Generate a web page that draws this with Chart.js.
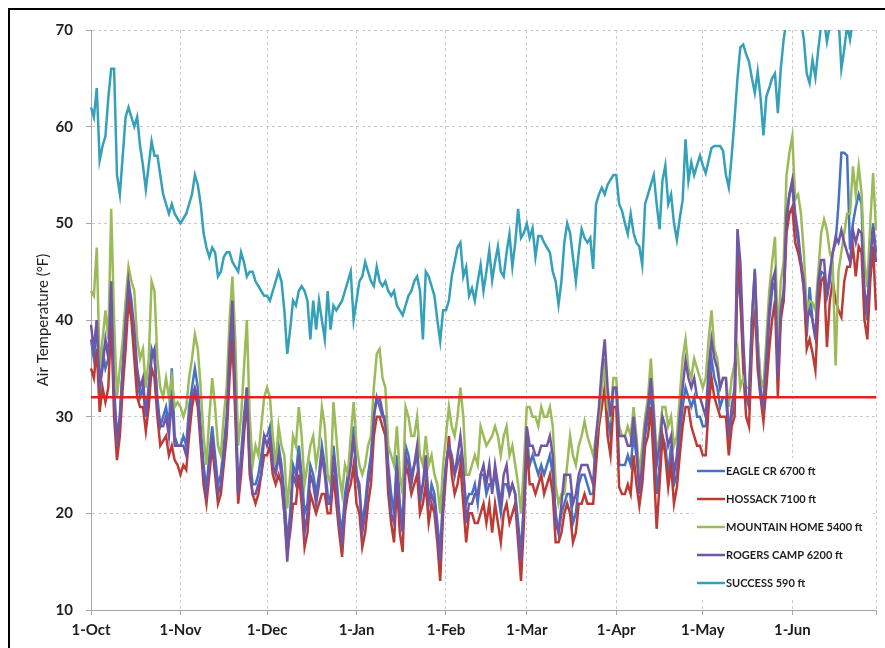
<!DOCTYPE html>
<html>
<head>
<meta charset="utf-8">
<title>Air Temperature</title>
<script src="https://cdn.jsdelivr.net/npm/chart.js@4.4.1/dist/chart.umd.min.js"></script>
<style>
  html, body { margin: 0; padding: 0; background: #fff; overflow: hidden; }
  #wrap { position: relative; width: 885px; height: 648px; }
  #frame { position: absolute; left: 8px; top: 8px; width: 900px; height: 700px; border: 2px solid #000; pointer-events: none; }
</style>
</head>
<body>
<div id="wrap">
  <canvas id="temp_chart"></canvas>
  <div id="frame"></div>
</div>
<script>
//daily labels 1-Oct .. 30-Jun, only the 1st of each month gets a tick label
const month_names = ['Jan','Feb','Mar','Apr','May','Jun','Jul','Aug','Sep','Oct','Nov','Dec'];
const days = [];
for (let d = new Date(2010, 9, 1); d <= new Date(2011, 5, 30); d.setDate(d.getDate() + 1)) {
  days.push(d.getDate() + '-' + month_names[d.getMonth()]);
}
const month_ticks = ['1-Oct','1-Nov','1-Dec','1-Jan','1-Feb','1-Mar','1-Apr','1-May','1-Jun'];
const y_ticks = [10, 20, 30, 40, 50, 60, 70];
const freezing_f = 32;

// daily air temperature (F), one row per month Oct..Jun
const eagle_cr = [
  38,36,40,32,37,35,36,42,33,28,30,35,39,43,41,38,34,32,33,30,33,37,36,32,29,30,31,29,35,28,27,
  27,28,27,31,33,35,33,29,25,22.5,26,29,26,23,24,27,30,36,40,33,22,26,30,33,26,23,23,24,26,28,
  28,29,26,25,27,25,22,17,20,25,24,27,24,20,21,25,24,22,24,27,25,22,21,27,24,20,18,22,24,26,29,
  24,22,19,21,24,26,30,32,31,30,30,25,22,20,26,21,19,27,26,24,25,26,21,23,25,21,23,22,19,16,22,
  25,27,25,24,25,26,24,21,22,22,23,21,24,24,22,23,23,24,22,20,23,23,22,23,22,19,16,21,
  28,25,26,25,24,25,24,25,26,24,20,18,20,21,22,22,19,20,23,24,24,23,22,22,27,30,34,36,30,28,33,
  33,25,25,25,26,25,28,26,23,25,28,30,33,28,22,25,28,27,24,27,23,24,28,31,33,32,31,32,30,30,
  29,29,33,36,34,33,31,32,32,28,30,31,45,42,36,32,31,40,45.3,38,33,31,35,40,43,44,35,41,42,50,53,
  54,50,48,46,43,38.3,43.4,40,38.3,43,45,44.8,42.4,44,47,48,52,57.3,57.3,57,47.3,50,51.7,53,52,42,40,47,50,47
];
const hossack = [
  35,34,37,30.5,33,31.5,33,40,30,25.5,28,33,37,42,40,36,32,31,31,28.5,31,35,34,30,27,27.5,28,26,27,25.5,25,
  24,25,24.5,28,31,32.5,31,27,23,21,24,27,24,21,22,25,28,34,38,30,21,24,28,32,24,22,21,22,24,26,
  26,27,24,23,24,23,20,16,18,21,21,24,21,16.5,18,22,21,20,21,22,22,20,20,24,21,18,15.5,20,22,23,25,
  21,20,16.5,18,21,23,28,30,30,29,28,22,19,17,23,18,16,25,24,22,23,24,20,21,23,19,21,20,17,13,20,
  24,28,24,22,23,25,21,17,20,20,19,19,20,21,19,21,18,21,19,17,20,21,19,20,21,17,13,19,
  27,23,23,22,23,24,22,23,24,22,17,17,18,20,21,20,17,18,21,21,22,21,21,21,25,29,31,33,28,26,31,
  31,22.7,22,22,23,22,26,23,20.8,23,27,28,31,25,18.4,23,28,26,22.7,25,21,22.7,26,29,31,31,29,28,27,27,
  26,26,31,34,32,31,30,30,30,26,29,30,47,43,35,30,29,37,42,35,32,29.5,33,37,40,42,32,40,42,49,51,
  51.7,48,47,45.5,43.4,37,38,36.6,34.8,41,44,44.5,37.2,42,44,42,41,40.3,44,45.5,45.5,47.6,44.5,47.6,47,40,38,44,47.6,41
];
const mountain_home = [
  43,42.5,47.5,35,38,41,38,51.5,40,32,35,38,42,45.5,44,43,38,36,37,33,36,44,43,36,33,32,34,32,34,31,31.5,
  31,30,31,34,36,38.5,37,33,28,25,30,34,31,27,26,30,33,40,44.5,38,27,30,35,40,30,25,27,26,29,32,
  33,32,28,25,29,27,26,20.5,24,28,27,31,28,23,25,27,28,25,27,31,29,24,23,31.5,28,24,22,25,24,28,31.5,
  27,25,24,25,27,28,33,36.5,37,34,33,27,26,25,29,24,22,31,30,28,28,30,26,25,28,25,26,24,23,20,25,
  28,31,29,28,30,33,30,24,24,25,26,25,29,28,27,27.5,28,29,28,26,28,29,26,27,25,23,20,25,
  31,31,30,30,29,31,30,30,31,29,23,21,22,22,25,28,26,25,27,28,29.5,28,27,26,28,30,33,35,31,30,34,
  34,29,28,28,29,28,31,28,24,27,30,32,36,31,26,28,31,31,29,30,27,28,32,36,38,35,34,36,35,34,
  33,34,38,41,37,36,33,34,34,31,34,35.5,37,33,34,33,33,40,43,38,34,33,38,43,46,48.6,38,44,46,55,57.3,
  59,52.5,53,51,46.9,41,42,41.8,41,45,49,50.4,49.3,47,46,35.3,45,47,49,51,51,55.9,53,55.9,53.1,46,43.4,50,55.2,49.3
];
const rogers_camp = [
  39.5,37,40,33,35,38,36,44,32,27,30,35,40,44,42,39,35,33,34,30,33,36,37,31,29,29,30,28,32,27,27,
  27,27,26,30,32,33,32,28,24,22,25,28,25,22,23,26,29,37,42,32,22,25,29,33,25,22,22,23,24,28,
  27,28,25,24,26,24,20,15,19,24,23,26,23,18,20,24,23,21,23,26,24,21,21,26,23,19,17,21,23,25,28,
  24,23,18,20,23,25,30,32,32,30.5,29,24,20,19,25,20,18,26,25,23,25,27,22,23,26,21,22,21,18,15,21,
  25,27,26,24,26,28,25,19,21,21,22,22,24,25,23,25,22,25,23,21,24,25,22,23,22,18,15,21,
  29,27,27,26,26,27,27,27,28,26,19,18,21,24,24,24,21,22,24,25,25,25,24,23,28,31,35,38,33,30,33,
  33,28,28,28,27,27,30,27,22,25,29,31,34,30,25,27,30,29,27,28,24,26,30,33,35.8,34,33,34,32,32,
  31,30,35,38,36,35,33,34,34,28,31,33,49.4,46,38,32,32,40,45,37,32,31,36,41,44,45,34,41,43,51,53,
  54.5,51,49,46,44,40,41,40,38,44,46.2,46.2,42.4,45,46.9,48.6,48,49.3,48,47,46,49.3,48,49.3,49,43,41.4,46,49.6,46
];
const success = [
  62,61,64,56.5,58,59,63,66,66,55,53,57,61,62,61,60,61,58,56,53.5,56,58.5,57,57,55,53,52,51,52,51,50.5,
  50,50.5,51,52,53,55,54,52,49,47.5,46.5,47.5,47,44.5,45,46.5,47,47,46,45.5,45,47,46,44.5,45,45,44,43.5,43,42.5,
  42.5,42,43,44,45,44,41,36.5,39,42,41.5,43,43.5,43,42,38,42,39,42,40,38,43,39,41.5,41,41.5,42,43,44,45,40,
  42,44,44.5,46,45,44,43.5,45.5,44,43.5,44,43,42.5,43,41.5,41,40.5,41.5,42.5,43,44,44.5,43,38,45,44.5,43.5,42.5,40,37.8,41,
  41,42,44.5,46,47.5,48,44.5,45.5,42.5,43.3,42,44,45.7,43,45,47.2,44.1,46,47.6,45,44.5,47,48.9,45.5,48,51.5,48.5,49,
  50,48.5,49.5,46.5,48.7,48.7,48,47.5,47,45,44,41.6,44,48,50,49,46.5,44,47,49.4,48.5,48,48.5,45.3,52,53,53.7,53,54,54.5,55,
  55,52,51.3,50,48.9,51,49,48,47.6,45.7,52,53,54,55,52,49.4,54.4,56,52,53,50,48.3,50.5,52.4,58.7,54.4,56.3,55,56,57,
  56,55.2,56.5,57.8,58,58,58,57.5,55,53.7,57,60.8,65,68.2,68.5,67.5,66.7,65,63.5,65.7,63,59.1,63.1,64,65,65.5,61.4,66,69,71,72,
  72,73,72,71,69,65.5,64.5,66.9,65.1,68,70.5,71,68.8,70.5,71.5,72,71.5,66,68,70.5,69,71,72,71.5,72,73,72,71.5,72,73
];

const series_names = ['EAGLE CR 6700 ft', 'HOSSACK 7100 ft', 'MOUNTAIN HOME 5400 ft', 'ROGERS CAMP 6200 ft', 'SUCCESS 590 ft'];
const series_colors = ['#4572C4', '#BE3A34', '#9BBB59', '#7256A6', '#35A0BA'];
const series_data = [eagle_cr, hossack, mountain_home, rogers_camp, success];

function is_month_tick(i) {
  return month_ticks.includes(days[i]) || i == days.length - 1;
}

//legend drawn inside the plot, bottom right, with white fill
const inside_legend = {
  id: 'inside_legend',
  afterDraw(chart) {
    const ctx = chart.ctx;
    const area = chart.chartArea;
    const left = area.right - 183;
    const top = area.bottom - 152;
    ctx.save();
    ctx.fillStyle = '#fff';
    ctx.fillRect(left, top, 180, 142);
    ctx.font = 'bold 11px Lato';
    ctx.textBaseline = 'middle';
    chart.data.datasets.forEach(function (ds, i) {
      if (ds.in_legend === false) return;
      const y = top + 13 + i * 28;
      ctx.strokeStyle = ds.borderColor;
      ctx.lineWidth = 2.5;
      ctx.beginPath();
      ctx.moveTo(left + 4, y);
      ctx.lineTo(left + 32, y);
      ctx.stroke();
      ctx.fillStyle = '#1e1e1e';
      ctx.fillText(ds.label, left + 33, y);
    });
    ctx.restore();
  }
};

const datasets = series_names.map(function (name, i) {
  return {
    label: name,
    data: series_data[i],
    borderColor: series_colors[i],
    backgroundColor: series_colors[i],
    borderWidth: 2.5,
    pointRadius: 0,
    tension: 0,
    order: 5 - i
  };
});
datasets.push({
  label: 'freezing',
  in_legend: false,
  data: [{x: days[0], y: freezing_f}, {x: days[days.length - 1], y: freezing_f}],
  borderColor: '#E3211D',
  borderWidth: 2.5,
  pointRadius: 0,
  order: 0
});

const config = {
  type: 'line',
  data: { labels: days, datasets: datasets },
  options: {
    responsive: true,
    maintainAspectRatio: false,
    animation: false,
    layout: { padding: { left: 0, top: 30, right: 9, bottom: 0 } },
    plugins: { legend: { display: false }, tooltip: { enabled: false } },
    scales: {
      x: {
        type: 'category',
        afterFit: function (s) { s.height = 38; },
        border: { display: true, color: '#a6a6a6', width: 1, dash: [3, 3] },
        grid: {
          color: ctx => is_month_tick(ctx.index) ? '#c9c9c9' : 'rgba(0,0,0,0)',
          tickColor: ctx => is_month_tick(ctx.index) ? '#a6a6a6' : 'rgba(0,0,0,0)',
          tickLength: 5,
          lineWidth: 1
        },
        ticks: {
          autoSkip: false,
          maxRotation: 0,
          minRotation: 0,
          padding: 6,
          color: '#1e1e1e',
          font: { family: 'Lato', size: 15, weight: 'bold' },
          callback: function (val, i) { return month_ticks.includes(days[i]) ? days[i] : ''; }
        }
      },
      y: {
        min: 10,
        max: 70,
        afterFit: function (s) { s.width = 91; },
        afterBuildTicks: function (s) { s.ticks = y_ticks.map(v => ({ value: v })); },
        border: { display: true, color: '#a6a6a6', width: 1, dash: [3, 3] },
        grid: { color: '#c9c9c9', tickColor: '#a6a6a6', tickLength: 5, lineWidth: 1 },
        ticks: {
          padding: 13,
          color: '#1e1e1e',
          font: { family: 'Lato', size: 15, weight: 'bold' }
        },
        title: {
          display: true,
          text: 'Air Temperature (°F)',
          color: '#1e1e1e',
          padding: { top: 34, bottom: 0 },
          font: { family: 'Lato', size: 15 }
        }
      }
    }
  },
  plugins: [inside_legend]
};

const temp_chart = new Chart(document.getElementById('temp_chart'), config);
</script>
</body>
</html>
